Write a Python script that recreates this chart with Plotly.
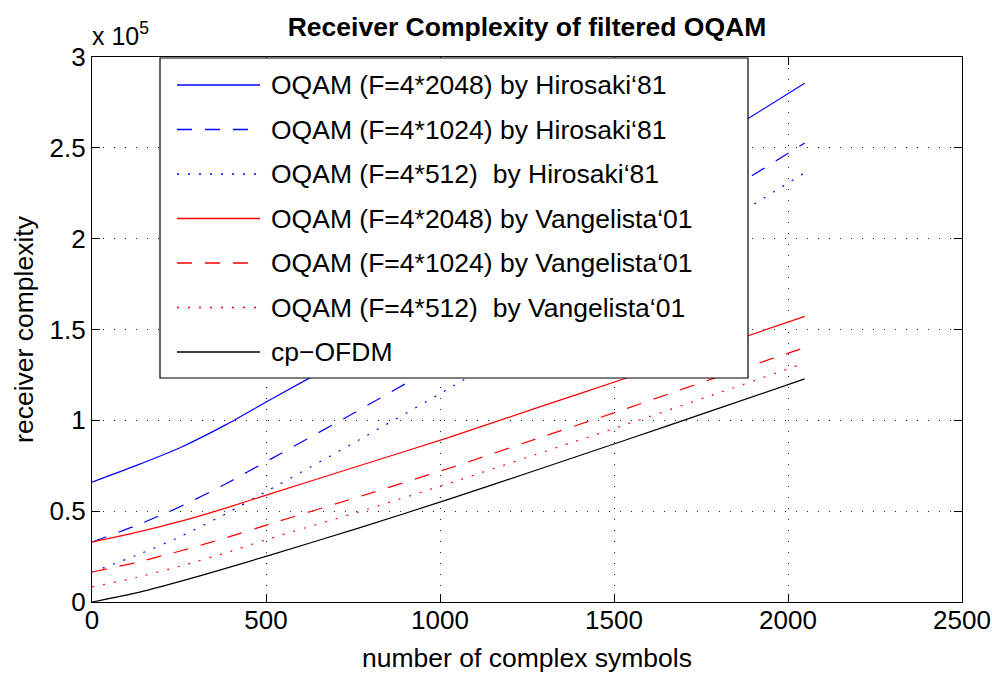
import plotly.graph_objects as go

# ---------------- data ----------------
n_symbols = [0, 128, 256, 384, 512, 768, 1024, 1280, 1536, 1792, 2048]

hirosaki_2048 = [66000, 75200, 85200, 97500, 111300, 138500, 166500, 195500, 225000, 255000, 285500]
hirosaki_1024 = [33000, 42200, 52700, 65000, 78500, 105700, 133700, 162700, 192200, 222200, 252700]
hirosaki_512 = [16500, 25700, 36200, 48500, 62000, 89300, 117300, 146300, 175800, 205800, 236300]
vangelista_2048 = [33000, 38300, 44500, 51700, 59500, 75000, 90500, 107000, 123300, 140500, 157200]
vangelista_1024 = [16500, 21800, 28200, 35300, 43000, 58000, 73500, 90000, 106500, 123500, 140000]
vangelista_512 = [8300, 13500, 19900, 27000, 35000, 49700, 65200, 81500, 97800, 114500, 131500]
cp_ofdm = [0, 5000, 11500, 18500, 25800, 40800, 56500, 72800, 89300, 106000, 122800]

series_names = [
    "OQAM (F=4*2048) by Hirosaki\u201881",
    "OQAM (F=4*1024) by Hirosaki\u201881",
    "OQAM (F=4*512)\u00a0 by Hirosaki\u201881",
    "OQAM (F=4*2048) by Vangelista\u201801",
    "OQAM (F=4*1024) by Vangelista\u201801",
    "OQAM (F=4*512)\u00a0 by Vangelista\u201801",
    "cp\u2212OFDM",
]
series_values = [hirosaki_2048, hirosaki_1024, hirosaki_512,
                 vangelista_2048, vangelista_1024, vangelista_512, cp_ofdm]
series_colors = ["#0000ff", "#0000ff", "#0000ff", "#ff0000", "#ff0000", "#ff0000", "#000000"]
DASHED = "15px,13px"
DOTTED = "2px,9px"
series_dash = ["solid", DASHED, DOTTED, "solid", DASHED, DOTTED, "solid"]

x_ticks = [0, 500, 1000, 1500, 2000, 2500]
y_ticks = [0, 50000, 100000, 150000, 200000, 250000, 300000]
y_ticklabels = ["0", "0.5", "1", "1.5", "2", "2.5", "3"]

title = "Receiver Complexity of filtered OQAM"
x_title = "number of complex symbols"
y_title = "receiver complexity"

# ---------------- layout geometry ----------------
W, H = 992, 673
L, R, T, B = 92, 30, 57, 71
PW, PH = W - L - R, H - T - B
FONT = "Liberation Sans, Arial, Helvetica, sans-serif"


def px(xp):
    return (xp - L) / PW


def py(yp):
    return (H - B - yp) / PH


fig = go.Figure()
for name, vals, col, dash in zip(series_names, series_values, series_colors, series_dash):
    fig.add_trace(go.Scatter(
        x=n_symbols, y=vals, mode="lines", name=name,
        line=dict(color=col, width=1.2, dash=dash, shape="spline", smoothing=0.6),
        showlegend=False,
    ))

# manual MATLAB-like legend box
shapes = [dict(type="rect", xref="paper", yref="paper",
               x0=px(160), x1=px(748), y0=py(378), y1=py(58),
               fillcolor="white", line=dict(color="black", width=1.2), layer="above")]
annotations = []
row_y = [85, 129.5, 174, 218.5, 263, 307.5, 352]
for ry, name, col, dash in zip(row_y, series_names, series_colors, series_dash):
    shapes.append(dict(type="line", xref="paper", yref="paper",
                       x0=px(177), x1=px(260), y0=py(ry), y1=py(ry),
                       line=dict(color=col, width=1.3, dash=dash), layer="above"))
    annotations.append(dict(xref="paper", yref="paper", x=px(269), y=py(ry),
                            xanchor="left", yanchor="middle", showarrow=False,
                            text=name, font=dict(family=FONT, size=26.5, color="black")))

# exponent label
annotations.append(dict(xref="paper", yref="paper", x=px(90), y=py(34),
                        xanchor="left", yanchor="middle", showarrow=False,
                        text="x 10<sup>5</sup>", font=dict(family=FONT, size=25, color="black")))

axis_common = dict(
    showline=True, linecolor="black", linewidth=1.2, mirror="ticks",
    ticks="inside", ticklen=8, tickcolor="black", tickwidth=1.2,
    showgrid=True, gridcolor="#222222", gridwidth=1, griddash="1px,10px",
    zeroline=False, tickfont=dict(family=FONT, size=26, color="black"),
    automargin=False,
)

fig.update_layout(
    width=W, height=H,
    margin=dict(l=L, r=R, t=T, b=B, pad=0, autoexpand=False),
    paper_bgcolor="white", plot_bgcolor="white",
    font=dict(family=FONT, color="black"),
    title=dict(text="<b>" + title + "</b>", x=(L + PW / 2) / W, xanchor="center",
               y=1 - 27 / H, yanchor="middle", yref="container", automargin=False,
               font=dict(family=FONT, size=26.5, color="black")),
    xaxis=dict(range=[0, 2500], tickvals=x_ticks, ticktext=[str(v) for v in x_ticks],
               ticklabelstandoff=-5,
               title=dict(text=x_title, font=dict(family=FONT, size=26.5), standoff=14),
               **axis_common),
    yaxis=dict(range=[0, 300000], tickvals=y_ticks, ticktext=y_ticklabels,
               title=dict(text=y_title, font=dict(family=FONT, size=26.5), standoff=8),
               **axis_common),
    shapes=shapes, annotations=annotations, showlegend=False,
)

fig.write_html("out.html")
